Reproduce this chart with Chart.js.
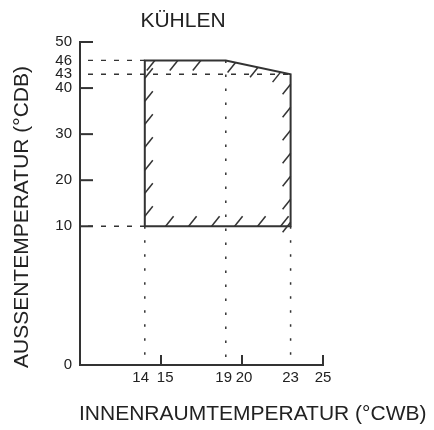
<!DOCTYPE html>
<html><head><meta charset="utf-8">
<script src="https://cdn.jsdelivr.net/npm/chart.js@4/dist/chart.umd.min.js"></script>
<style>html,body{margin:0;padding:0;background:#fff;}canvas{display:block;}</style>
</head><body><canvas id="c" width="434" height="430"></canvas>
<script>
// ---- data ----
const TITLE = 'KÜHLEN';
const X_TITLE = 'INNENRAUMTEMPERATUR (°CWB)';
const Y_TITLE = 'AUSSENTEMPERATUR (°CDB)';
const X_TICKS = [14, 15, 19, 20, 23, 25];
const Y_TICKS = [0, 10, 20, 30, 40, 43, 46, 50];
const X_TICK_MARKS = [15, 20, 25];
const Y_TICK_MARKS = [10, 20, 30, 40, 50];
const X_RANGE = [10, 25];
const Y_RANGE = [0, 50];
const Y_BREAK = 10;
// operating envelope corners (°CWB, °CDB)
const ENV_X = [14, 14, 19, 23, 23, 14];
const ENV_Y = [10, 46, 46, 43, 10, 10];
// dashed guides to the y axis
const H_GUIDES_Y = [46, 43, 10];
const H_GUIDES_XEND = [14, 23, 14];
// dotted guides to the x axis
const V_GUIDES_X = [14, 19, 23];
const V_GUIDES_YTOP = [10, 46, 10];

// ---- style ----
const LINE = '#333';
const TEXT = '#222';
const FONT = "'Liberation Sans', Arial, sans-serif";
const LOWER_FRAC = 0.4295;
// spacing pads so that neighbouring x labels do not touch (layout only)
const X_LABEL_PAD = { 14: ['', '  '], 15: ['  ', ''], 19: ['', ' '], 20: [' ', ''] };
Chart.defaults.font.family = FONT;
Chart.defaults.color = TEXT;

class BrokenLinearScale extends Chart.LinearScale {
  getPixelForValue(v) {
    if (v === null || isNaN(v)) return NaN;
    let f;
    if (v <= Y_BREAK) f = (v - this.min) / (Y_BREAK - this.min) * LOWER_FRAC;
    else f = LOWER_FRAC + (v - Y_BREAK) / (this.max - Y_BREAK) * (1 - LOWER_FRAC);
    return this.getPixelForDecimal(f);
  }
  getValueForPixel(p) {
    const f = this.getDecimalForPixel(p);
    if (f <= LOWER_FRAC) return this.min + f / LOWER_FRAC * (Y_BREAK - this.min);
    return Y_BREAK + (f - LOWER_FRAC) / (1 - LOWER_FRAC) * (this.max - Y_BREAK);
  }
}
BrokenLinearScale.id = 'brokenLinear';
BrokenLinearScale.defaults = Chart.LinearScale.defaults;
Chart.register(BrokenLinearScale);

const datasets = [];
datasets.push({ data: ENV_X.map((x, i) => ({ x, y: ENV_Y[i] })), borderColor: LINE, borderWidth: 2,
  showLine: true, pointRadius: 0, fill: false, borderJoinStyle: 'miter' });
H_GUIDES_Y.forEach((y, i) => datasets.push({ data: [{ x: X_RANGE[0], y }, { x: H_GUIDES_XEND[i], y }],
  borderColor: LINE, borderWidth: 1.3, borderDash: [5, 8], borderDashOffset: 5, showLine: true, pointRadius: 0 }));
V_GUIDES_X.forEach((x, i) => datasets.push({ data: [{ x, y: V_GUIDES_YTOP[i] }, { x, y: Y_RANGE[0] }],
  borderColor: LINE, borderWidth: 1.5, borderDash: [2.5, 11.5], showLine: true, pointRadius: 0 }));

const decor = {
  id: 'decor',
  afterDatasetsDraw(chart) {
    const { ctx, scales: { x, y } } = chart;
    ctx.save();
    ctx.strokeStyle = LINE;
    ctx.lineWidth = 2;
    const x0 = x.getPixelForValue(X_RANGE[0]);
    const y0 = y.getPixelForValue(Y_RANGE[0]);
    Y_TICK_MARKS.forEach(v => { const p = y.getPixelForValue(v); ctx.beginPath(); ctx.moveTo(x0, p); ctx.lineTo(x0 + 13, p); ctx.stroke(); });
    X_TICK_MARKS.forEach(v => { const p = x.getPixelForValue(v); ctx.beginPath(); ctx.moveTo(p, y0); ctx.lineTo(p, y0 - 10); ctx.stroke(); });
    // hatching along the envelope, inside
    const pts = ENV_X.map((v, i) => [x.getPixelForValue(v), y.getPixelForValue(ENV_Y[i])]);
    ctx.lineWidth = 1.5;
    for (let i = 0; i < pts.length - 1; i++) {
      const [ax, ay] = pts[i], [bx, by] = pts[i + 1];
      const len = Math.hypot(bx - ax, by - ay);
      const ux = (bx - ax) / len, uy = (by - ay) / len;
      const nx = -uy, ny = ux;
      let sx = 8, sy = -10;
      if (sx * nx + sy * ny < 0) { sx = -sx; sy = -sy; }
      for (let d = 10; d < len - 4; d += 23) {
        const px = ax + ux * d, py = ay + uy * d;
        ctx.beginPath(); ctx.moveTo(px, py); ctx.lineTo(px + sx, py + sy); ctx.stroke();
      }
    }
    // titles
    ctx.fillStyle = TEXT;
    ctx.font = '21px ' + FONT;
    ctx.textAlign = 'center';
    ctx.textBaseline = 'alphabetic';
    ctx.fillText(TITLE, 183, 27);
    ctx.textAlign = 'left';
    ctx.fillText(X_TITLE, 79, 420);
    ctx.translate(22, 217);
    ctx.rotate(-Math.PI / 2);
    ctx.textAlign = 'center';
    ctx.textBaseline = 'middle';
    ctx.fillText(Y_TITLE, 0, 0);
    ctx.restore();
  }
};

new Chart(document.getElementById('c'), {
  type: 'scatter',
  data: { datasets },
  options: {
    responsive: false,
    animation: false,
    layout: { padding: { top: 42, right: 111, left: 0, bottom: 0 } },
    plugins: { legend: { display: false }, tooltip: { enabled: false }, title: { display: false } },
    scales: {
      x: {
        type: 'linear', min: X_RANGE[0], max: X_RANGE[1],
        afterBuildTicks: s => { s.ticks = X_TICKS.map(v => ({ value: v })); },
        ticks: { autoSkip: false, minRotation: 0, maxRotation: 0, padding: 4, font: { size: 15 }, color: TEXT,
          callback: v => { const p = X_LABEL_PAD[v] || ['', '']; return p[0] + v + p[1]; } },
        grid: { display: false, drawTicks: false },
        border: { display: true, color: LINE, width: 2 },
        afterFit: s => { s.height = 65; }
      },
      y: {
        type: 'brokenLinear', min: Y_RANGE[0], max: Y_RANGE[1],
        afterBuildTicks: s => { s.ticks = Y_TICKS.map(v => ({ value: v })); },
        ticks: { autoSkip: false, minRotation: 0, maxRotation: 0, padding: 8, font: { size: 15 }, color: TEXT },
        grid: { display: false, drawTicks: false },
        border: { display: true, color: LINE, width: 2 },
        afterFit: s => { s.width = 80; }
      }
    }
  },
  plugins: [decor]
});
</script>
</body></html>
